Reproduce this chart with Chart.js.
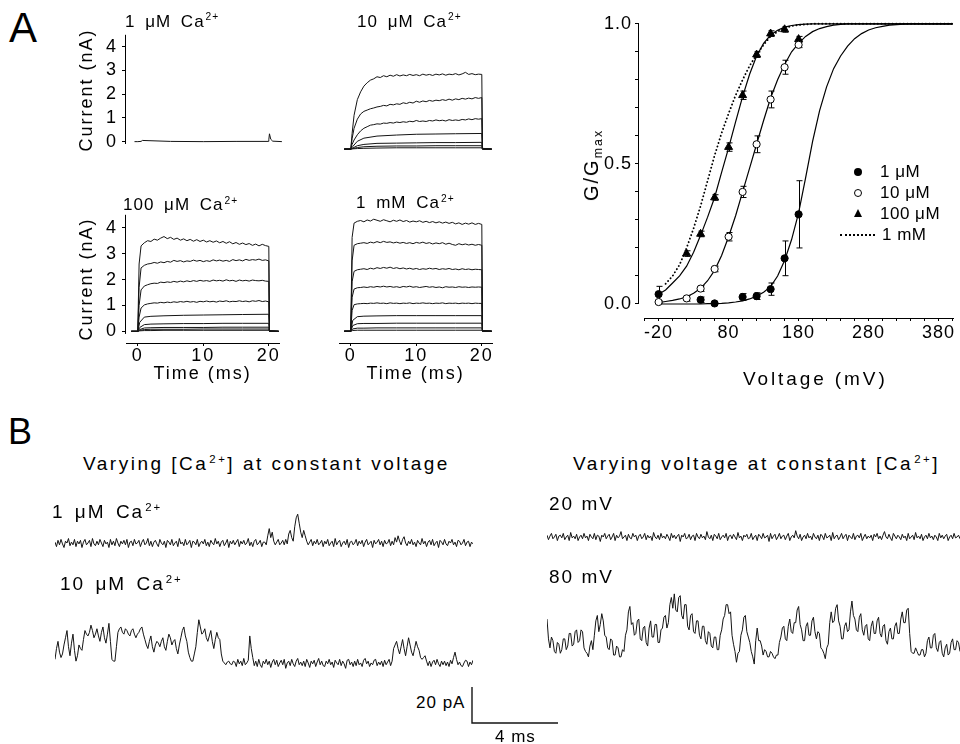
<!DOCTYPE html>
<html>
<head>
<meta charset="utf-8">
<title>Ca2+ and voltage dependence of BK currents</title>
<script src="https://cdn.jsdelivr.net/npm/chart.js@4.4.1/dist/chart.umd.min.js"></script>
<style>
  body { margin: 0; background: #fff; }
  #fig { position: relative; width: 960px; height: 744px; overflow: hidden;
         font-family: "Liberation Sans", Arial, sans-serif; color: #000; }
  #fig canvas { position: absolute; }
  .t { position: absolute; line-height: 1; white-space: nowrap; }
  .t sup { font-size: 0.6em; line-height: 0; vertical-align: 0.6em; margin-left: 1px; }
  .t sub { font-size: 0.62em; line-height: 0; vertical-align: -0.3em; }
  .mk { position: absolute; box-sizing: border-box; }
</style>
</head>
<body>
<div id="fig">
  <canvas id="a1" width="230" height="140" style="left:60px;top:20px"></canvas>
  <canvas id="a2" width="230" height="140" style="left:290px;top:20px"></canvas>
  <canvas id="a3" width="230" height="190" style="left:60px;top:200px"></canvas>
  <canvas id="a4" width="230" height="190" style="left:290px;top:200px"></canvas>
  <canvas id="g" width="400" height="390" style="left:560px;top:10px"></canvas>
  <canvas id="b1" width="418" height="60" style="left:55px;top:505px"></canvas>
  <canvas id="b2" width="418" height="70" style="left:55px;top:605px"></canvas>
  <canvas id="b3" width="413" height="50" style="left:547px;top:510px"></canvas>
  <canvas id="b4" width="413" height="90" style="left:547px;top:580px"></canvas>
  <canvas id="bar" width="100" height="50" style="left:466px;top:680px"></canvas>

  <div class="t" style="left:9px;top:7px;font-size:42px">A</div>
  <div class="t" style="left:8px;top:414px;font-size:36px">B</div>

  <div class="t" style="left:125px;top:12.6px;font-size:17px;letter-spacing:1px;word-spacing:4px">1 μM Ca<sup>2+</sup></div>
  <div class="t" style="left:357px;top:12.6px;font-size:17px;letter-spacing:1px;word-spacing:4px">10 μM Ca<sup>2+</sup></div>
  <div class="t" style="left:123px;top:196.3px;font-size:17px;letter-spacing:1px;word-spacing:4px">100 μM Ca<sup>2+</sup></div>
  <div class="t" style="left:356px;top:193.9px;font-size:17px;letter-spacing:1px;word-spacing:4px">1 mM Ca<sup>2+</sup></div>

  <div class="t" style="left:591px;top:165px;font-size:20px;letter-spacing:2px;transform:translate(-50%,-50%) rotate(-90deg)">G/G<sub>max</sub></div>
  <div class="t" style="left:743px;top:369px;font-size:19px;letter-spacing:2.9px">Voltage (mV)</div>

  <div class="mk" style="left:854px;top:168px;width:8px;height:8px;border-radius:50%;background:#000"></div>
  <div class="mk" style="left:854px;top:189px;width:8px;height:8px;border-radius:50%;border:1px solid #000"></div>
  <div class="mk" style="left:853.5px;top:208.5px;width:0;height:0;border-left:4.5px solid transparent;border-right:4.5px solid transparent;border-bottom:8px solid #000"></div>
  <div class="mk" style="left:840px;top:234px;width:35px;height:0;border-top:2px dotted #000"></div>
  <div class="t" style="left:880px;top:162.6px;font-size:17px;letter-spacing:0.5px">1 μM</div>
  <div class="t" style="left:880px;top:183.6px;font-size:17px;letter-spacing:0.5px">10 μM</div>
  <div class="t" style="left:880px;top:204.6px;font-size:17px;letter-spacing:0.5px">100 μM</div>
  <div class="t" style="left:882px;top:225.6px;font-size:17px;letter-spacing:0.5px">1 mM</div>

  <div class="t" style="left:83px;top:453.9px;font-size:19px;letter-spacing:2.5px">Varying [Ca<sup>2+</sup>] at constant voltage</div>
  <div class="t" style="left:573px;top:453.9px;font-size:19px;letter-spacing:2.5px">Varying voltage at constant [Ca<sup>2+</sup>]</div>
  <div class="t" style="left:52px;top:501.9px;font-size:19px;letter-spacing:2px;word-spacing:3px">1 μM Ca<sup>2+</sup></div>
  <div class="t" style="left:60px;top:573.9px;font-size:19px;letter-spacing:2px;word-spacing:3px">10 μM Ca<sup>2+</sup></div>
  <div class="t" style="left:549px;top:493.9px;font-size:19px;letter-spacing:2px">20 mV</div>
  <div class="t" style="left:549px;top:566.9px;font-size:19px;letter-spacing:2px">80 mV</div>
  <div class="t" style="left:416px;top:693.6px;font-size:17px;letter-spacing:1px">20 pA</div>
  <div class="t" style="left:495px;top:727.6px;font-size:17px;letter-spacing:1px">4 ms</div>
</div>

<script>
// ---- panel A: macroscopic currents (nA) vs time (ms) ----
const tFine = [-1, 0, 0.2, 0.5, 1, 1.5, 2, 2.5, 3, 3.5, 4, 4.5, 5, 5.5, 6, 6.5, 7, 7.5, 8, 8.5,
  9, 9.5, 10, 10.5, 11, 11.5, 12, 12.5, 13, 13.5, 14, 14.5, 15, 15.5, 16, 16.5, 17, 17.5, 18, 18.5,
  19, 19.5, 20, 20.1, 21.5];
const tCoarse = [-1, 0, 0.3, 1, 2, 4, 7, 10, 13, 16, 20, 20.1, 21.5];
const tOne = [-0.5, 0, 0.5, 0.7, 5, 10, 15, 19.9, 20, 20.1, 20.3, 20.6, 22];
const currentTicks = [0, 1, 2, 3, 4];
const timeTicks = [0, 10, 20];

const i1uM = [0, 0, 0.01, 0.05, 0.01, 0, 0.01, 0.01, 0.08, 0.33, 0.1, 0.02, 0];

const i10Fine = [
  [0,0,0.6,1.3, 1.9,2.2,2.42,2.55,2.65,2.7,2.78,2.75,2.82,2.78, 2.84,2.8,2.86,2.81,2.85,2.82,2.87,2.83,2.86,2.82,
   2.88,2.84,2.87,2.83,2.88,2.85,2.89,2.84,2.88,2.86, 2.9,2.85,2.89,2.95,2.87,2.9,2.86,2.88,2.87, 0.03,0],
  [0,0,0.4,0.8, 1.15,1.35,1.45,1.5,1.55,1.58,1.62,1.64,1.68,1.66, 1.72,1.7,1.74,1.72,1.78,1.75,1.8,1.77,1.84,1.8,
   1.85,1.82,1.87,1.84,1.88,1.86,1.9,1.87,1.92,1.88, 1.93,1.9,1.95,1.92,1.96,1.93,1.98,1.95,1.98, 0.02,0],
  [0,0,0.18,0.35, 0.55,0.7,0.8,0.86,0.92,0.94,0.97,0.96,1.0,0.99, 1.02,1.0,1.04,1.02,1.05,1.03,1.07,1.05,1.1,1.06,
   1.08,1.06,1.1,1.08,1.12,1.09,1.11,1.08,1.13,1.1, 1.12,1.1,1.14,1.12,1.16,1.13,1.17,1.15,1.17, 0.01,0]
];
const i10Coarse = [
  [0,0,0.1,0.3,0.42,0.5,0.54,0.57,0.58,0.59,0.6,0.01,0],
  [0,0,0.04,0.13,0.18,0.22,0.23,0.24,0.25,0.25,0.26,0,0],
  [0,0,0.02,0.06,0.09,0.11,0.12,0.12,0.13,0.13,0.13,0,0],
  [0,0,0.01,0.02,0.03,0.04,0.05,0.05,0.05,0.05,0.05,0,0]
];

const i100Fine = [
  [0,0,2.6,3.3, 3.42,3.5,3.47,3.56,3.52,3.6,3.66,3.58,3.63,3.55, 3.6,3.52,3.57,3.5,3.55,3.48,3.54,3.47,3.52,3.45,
   3.5,3.44,3.49,3.42,3.47,3.4,3.46,3.38,3.43,3.36, 3.41,3.35,3.39,3.32,3.37,3.3,3.36,3.31,3.28, 0.02,0],
  [0,0,1.7,2.45, 2.55,2.6,2.62,2.66,2.63,2.68,2.65,2.7,2.67,2.74, 2.7,2.73,2.68,2.72,2.7,2.75,2.71,2.74,2.69,2.73,
   2.7,2.76,2.72,2.75,2.71,2.74,2.7,2.77,2.73,2.76, 2.72,2.78,2.74,2.77,2.75,2.79,2.74,2.76,2.72, 0.02,0],
  [0,0,1.0,1.6, 1.75,1.8,1.84,1.86,1.85,1.9,1.88,1.91,1.89,1.93, 1.9,1.94,1.91,1.95,1.92,1.96,1.93,1.97,1.94,1.96,
   1.93,1.98,1.95,1.97,1.94,1.99,1.95,1.97,1.93,1.98, 1.95,1.97,1.94,1.98,1.96,1.95,1.97,1.94,1.93, 0.02,0],
  [0,0,0.55,0.9, 1.02,1.06,1.08,1.1,1.09,1.12,1.1,1.13,1.11,1.14, 1.12,1.15,1.13,1.16,1.13,1.15,1.12,1.16,1.14,1.17,
   1.14,1.16,1.13,1.17,1.15,1.18,1.14,1.16,1.15,1.18, 1.15,1.17,1.14,1.18,1.16,1.19,1.15,1.17,1.14, 0.01,0]
];
const i100Coarse = [
  [0,0,0.35,0.55,0.58,0.6,0.62,0.63,0.64,0.65,0.66,0.01,0],
  [0,0,0.15,0.26,0.28,0.29,0.3,0.3,0.31,0.31,0.31,0,0],
  [0,0,0.07,0.13,0.14,0.15,0.15,0.15,0.16,0.16,0.16,0,0],
  [0,0,0.04,0.07,0.08,0.08,0.08,0.09,0.09,0.09,0.09,0,0],
  [0,0,0.02,0.03,0.03,0.04,0.04,0.04,0.04,0.04,0.04,0,0]
];

const i1mMFine = [
  [0,0,3.6,4.15, 4.22,4.25,4.2,4.27,4.23,4.3,4.26,4.22,4.28,4.24, 4.2,4.26,4.22,4.27,4.21,4.25,4.19,4.23,4.2,4.24,
   4.18,4.22,4.17,4.21,4.16,4.2,4.15,4.19,4.14,4.18, 4.12,4.16,4.1,4.15,4.11,4.16,4.1,4.14,4.1, 0.03,0],
  [0,0,2.7,3.3, 3.36,3.38,3.4,3.37,3.42,3.39,3.44,3.4,3.45,3.41, 3.43,3.39,3.42,3.38,3.41,3.37,3.4,3.36,3.41,3.38,
   3.42,3.37,3.4,3.35,3.39,3.36,3.4,3.34,3.38,3.33, 3.3,3.36,3.32,3.35,3.31,3.34,3.3,3.33,3.3, 0.02,0],
  [0,0,1.9,2.3, 2.36,2.38,2.4,2.37,2.42,2.39,2.44,2.41,2.45,2.42, 2.46,2.41,2.44,2.4,2.43,2.39,2.42,2.38,2.41,2.37,
   2.4,2.38,2.42,2.39,2.41,2.37,2.4,2.38,2.41,2.37, 2.39,2.36,2.4,2.37,2.39,2.36,2.38,2.37,2.36, 0.02,0],
  [0,0,1.3,1.62, 1.67,1.68,1.7,1.68,1.71,1.69,1.72,1.7,1.73,1.7, 1.72,1.69,1.71,1.68,1.72,1.7,1.73,1.69,1.71,1.68,
   1.7,1.72,1.69,1.71,1.68,1.7,1.67,1.71,1.69,1.7, 1.68,1.71,1.69,1.7,1.68,1.7,1.69,1.7,1.69, 0.01,0],
  [0,0,0.8,1.02, 1.05,1.06,1.07,1.06,1.08,1.07,1.09,1.07,1.08,1.06, 1.09,1.07,1.08,1.06,1.08,1.07,1.09,1.06,1.08,1.07,
   1.09,1.07,1.08,1.06,1.08,1.07,1.09,1.06,1.08,1.07, 1.08,1.06,1.08,1.07,1.08,1.06,1.08,1.07,1.07, 0.01,0]
];
const i1mMCoarse = [
  [0,0,0.42,0.56,0.58,0.59,0.6,0.6,0.6,0.6,0.6,0.01,0],
  [0,0,0.22,0.29,0.3,0.3,0.31,0.31,0.31,0.31,0.31,0,0],
  [0,0,0.09,0.12,0.12,0.13,0.13,0.13,0.13,0.13,0.13,0,0],
  [0,0,0.03,0.04,0.04,0.04,0.04,0.04,0.04,0.04,0.04,0,0]
];

// ---- G/Gmax vs voltage ----
const curveV = [-20,-10,0,10,20,30,40,50,60,70,80,90,100,110,120,130,140,150,160,170,180,190,200,
  210,220,230,240,250,260,270,280,290,300,310,320,330,340,350,360,370,380,390,400];
const fit1uM = [0,0,0,0,0,0,0,0.001,0.001,0.002, 0.004,0.007,0.011,0.018,0.028,0.042,0.062,0.1,0.155,0.23,
  0.325,0.45,0.58,0.69,0.775,0.84,0.885,0.92,0.947,0.965, 0.978,0.986,0.991,0.995,0.997,0.999,1,1,1,1, 1,1,1];
const fit10uM = [0.005,0.009,0.013,0.018,0.026,0.038,0.056,0.083,0.12,0.173, 0.24,0.315,0.4,0.485,0.57,0.655,0.735,0.8,0.855,0.9,
  0.93,0.955,0.972,0.983,0.99,0.995,0.998,1,1,1, 1,1,1,1,1,1,1,1,1,1, 1,1,1];
const fit100uM = [0.035,0.05,0.075,0.1,0.135,0.185,0.245,0.31,0.38,0.47, 0.557,0.65,0.74,0.82,0.885,0.93,0.96,0.977,0.988,0.994,
  0.997,0.999,1,1,1,1,1,1,1,1, 1,1,1,1,1,1,1,1,1,1, 1,1,1];
const fit1mM = [null,0.072,0.1,0.14,0.2,0.27,0.35,0.44,0.53,0.61, 0.68,0.745,0.8,0.85,0.89,0.925,0.955,0.972,0.985,0.992,
  0.996,0.998,1,1,1,1,1,1,1,1, 1,1,1,1,1,1,1,1,1,1, 1,1,1];

const g1V = [-20, 40, 60, 100, 120, 140, 160, 180];
const g1Y = [0.035, 0.015, 0.002, 0.025, 0.028, 0.053, 0.163, 0.32];
const g1Err = [0.028, 0.01, 0, 0.012, 0.012, 0.022, 0.062, 0.12];
const g10V = [-20, 20, 40, 60, 80, 100, 120, 140, 160, 180];
const g10Y = [0.007, 0.02, 0.055, 0.125, 0.24, 0.40, 0.57, 0.73, 0.845, 0.925];
const g10Err = [0.005, 0.01, 0.01, 0.01, 0.015, 0.02, 0.03, 0.03, 0.025, 0.01];
const g100V = [20, 40, 60, 80, 100, 120, 140, 160, 180];
const g100Y = [0.18, 0.25, 0.38, 0.56, 0.745, 0.89, 0.965, 0.98, 0.945];
const g100Err = [0.01, 0.01, 0.01, 0.015, 0.015, 0.01, 0.01, 0.01, 0.01];

const gYTicks = [0, 0.1, 0.2, 0.3, 0.4, 0.5, 0.6, 0.7, 0.8, 0.9, 1.0];
const gYLabels = [0, 0.5, 1.0];
const vTicks = [-40,-20,0,20,40,60,80,100,120,140,160,180,200,220,240,260,280,300,320,340,360,380,400];
const vLabels = [-20, 80, 180, 280, 380];

// ---- panel B: single channel records (pA), sample interval 0.07 ms ----
const dtB = 0.07;
const b1uM = [
  0.5,-2,1.5,-1,2,-0.5,-2.5,1,0,2.5,-1.5,0.5,-1,2,-2,1,-0.5,1.5,-2.5,0.5,
  2,-1,0,1.5,-2,2.5,-0.5,-1.5,1,-1,2,0,-2,1.5,-0.5,0.5,-2.5,2,-1,1,
  -1.5,2.5,0,-2,1,-0.5,1.5,-1,2,-2.5,0.5,1,-1.5,2,-0.5,0,1.5,-2,0.5,2,
  -1,0,2.5,-1.5,1,-2,0.5,1.5,-0.5,-2,2,0,-1,1,-2.5,1.5,0.5,-1,2,-1.5,
  0,1,-2,2.5,-0.5,0.5,-1.5,2,-1,0,1.5,-2.5,1,0.5,-1,2,-2,0,1,-0.5,
  2,-1.5,0.5,-2,1.5,0,-1,2.5,-0.5,1,-2,0.5,1.5,-1.5,0,2,-2.5,1,-0.5,1.5,
  -1,0.5,2,-2,1,-0.5,1.5,-1,0,2.5,-1.5,0.5,-2,1,2,-1,0,1.5,-2,0.5,
  0.5,-1,4,8,3,6,1,-1,0.5,2,-1,0,1.5,-1,2,-0.5,5,7,3,1,
  9,14,16,11,6,3,7,4,1,-1,0.5,2,-1.5,1,-0.5,2,-1,0,1.5,-2,
  1,-0.5,2,-1.5,0,1,-2,2.5,-1,0.5,1.5,-2,0,1,-1,2,-2.5,0.5,1,-1,
  0,2,-1.5,1,-0.5,1.5,-2,0.5,2,-1,0,1,-2.5,1.5,-0.5,0.5,2,-1,1,-2,
  1.5,-0.5,0,2,-1.5,1,-1,3,0.5,4,1,-1,2,3.5,0,-1.5,1,-0.5,2,-1,
  0.5,-2,1.5,0,-1,2.5,-0.5,1,-2,0.5,1.5,-1,2,-1.5,0,1,-2.5,1.5,0.5,-1,
  2,-0.5,-1.5,1,0,2,-1,0.5,-2,1.5,1,-1,0,2,-1.5,0.5,1,-2,0.5,-0.5];
const b10uM = [
  2,8,12,6,3,5,10,14,18,9,4,11,16,7,1,4,10,8,7,13,
  18,16,15,17,21,18,14,16,19,15,12,17,20,14,11,16,22,12,2,1,
  1,9,17,19,20,17,16,19,18,16,15,18,19,16,14,16,17,19,20,16,
  13,10,8,12,15,9,6,10,12,11,9,12,14,9,7,12,16,14,10,12,
  13,8,5,10,14,18,20,15,12,6,3,1,1,5,9,17,24,20,16,17,
  19,14,12,15,18,12,8,13,17,14,13,5,1,0,-1,0.5,1,-0.5,-1,1,
  0.5,-2,2,-0.5,1,-1.5,2.5,-1,0,1.5,15,8,3,-1.5,1,-2,2,-1,-2.5,1,
  -0.5,2,-1,1,-2.5,0.5,2,-1,1.5,-2,0,1.5,-1,2,-3,0,1,-1.5,2,-0.5,
  -2,1,2.5,-1,0.5,-1.5,1,-2,2,0,-2.5,1,-0.5,1.5,-2,0.5,2.5,-1,1,-1.5,
  -2,1,-0.5,2,-1,0.5,-2.5,1.5,0,-1,2,-1.5,1,-0.5,-3,1.5,2,-1,0.5,-2,
  1,-1.5,2,-1,0,-2,1.5,2.5,-0.5,1,-2,0,-1,1.5,2,-1.5,0.5,-1,1,-2,
  1.5,-1,0.5,2,-1.5,1,8,10,12,8,5,9,13,8,4,9,14,10,6,4,
  8,12,9,7,3,2,3,4,1,-1.5,1,-2,0.5,1.5,-1,2,-0.5,-2,1,-1,
  1,-1.5,0.5,-2,1.5,-0.5,3,6,2,-1,0.5,-1.5,-2,0,1.5,1,-2,0.5,-1,1.5];
const b20mV = [
  1,-1.5,0.5,2,-1,0,1.5,-2,0.5,1,-0.5,2,-1.5,0,1,-2,2.5,-0.5,0.5,-1,
  1.5,-2,0,1,-1,2,-0.5,0.5,-2,1.5,0,-1,2,-1.5,1,0.5,-2.5,1,0,2,
  -1,0.5,1.5,-1.5,0,2,-2,1,-0.5,0.5,3,-1,0,1,-2,1.5,-0.5,-1,2,0,
  1,-2,0.5,1.5,-1,0,2,-1.5,1,-0.5,0.5,-2,2.5,0,-1,1,-1.5,2,-0.5,0.5,
  -1,1.5,0,-2,2,-0.5,1,-1,0.5,1.5,-2.5,1,0,2,-1,-0.5,1.5,-1.5,0.5,1,
  -2,2,0,-1,1.5,-0.5,0.5,-1.5,3,0,-1,1,-2,1.5,0.5,-1,2,-1.5,0,1,
  -0.5,2,-2,0.5,1,-1,1.5,0,-1.5,2.5,-0.5,0.5,-2,1,0,1.5,-1,-0.5,2,-1.5,
  0,1,-2,1.5,0.5,-1,2,-0.5,0,1,-2.5,2,-1,0.5,1.5,-1.5,0,2,-1,0.5,
  1,-1.5,0.5,2,-2,0,1,-0.5,3.5,0.5,-1,1.5,-2,0,1,-1,2,-0.5,0.5,-1.5,
  2,0,-1,1,-2,1.5,0.5,-1.5,2,-0.5,0,1,-2,2.5,-1,0.5,1,-1.5,0,2,
  -1,0.5,1.5,-2,1,0,-1,2,-1.5,0.5,1,-0.5,2,-2,0,1.5,-1,0.5,-0.5,1,
  -2,1.5,0,2,-1,0.5,-1.5,1,3,0,-1,1.5,-0.5,-2,2,0.5,-1,1,0,-1.5,
  1.5,-0.5,0.5,-2,2,-1,0,1,-1.5,2.5,-0.5,0.5,-1,1.5,-2,0,1,-1,2,-0.5,
  0.5,-1.5,1,0,-2,2,-0.5,1,-1,0.5,1.5,-2,0,1,-1,2,-0.5,0,1,-1];
const b80mV = [
  20,9,4,10,8,2,1,7,6,1,3,9,9,3,5,12,12,5,6,13,
  14,7,8,14,13,4,2,1,-1,5,8,3,11,19,22,13,17,23,19,11,
  10,4,3,9,8,0,0,5,4,-1,-1,3,2,11,14,24,27,17,18,11,
  12,19,20,9,8,15,16,7,5,15,19,10,10,17,17,7,7,14,15,21,
  22,15,18,28,32,26,34,25,24,32,33,22,20,28,28,16,14,22,23,13,
  12,19,19,11,9,16,16,8,6,13,12,5,4,10,10,3,3,11,14,20,
  22,28,28,23,24,11,6,2,-4,1,2,11,14,21,22,13,10,7,2,-1,
  -5,8,15,8,8,5,0,3,2,-1,-1,2,1,-1,-2,0,0,7,10,15,
  16,9,8,16,20,13,12,18,18,25,27,17,14,8,8,16,18,11,11,19,
  21,13,9,13,12,4,3,1,-2,4,6,18,24,18,19,26,28,19,16,9,
  9,16,18,13,14,24,30,22,20,14,13,21,23,14,11,16,17,9,8,16,
  19,12,12,19,21,12,10,16,17,8,6,13,15,9,9,16,18,12,12,20,
  24,18,18,25,26,12,2,1,1,4,2,0,0,3,3,-1,1,8,10,4,
  4,11,12,4,2,7,8,1,-1,4,6,0,1,7,9,3,3,8,7,2];
const barT = [0, 0, 4];
const barI = [20, 0, 0];

// ---------------------------------------------------------------
Chart.defaults.font.family = '"Liberation Sans", Arial, sans-serif';
Chart.defaults.font.size = 18;
Chart.defaults.color = '#000';

// offset axis lines (axis lines that stop short of each other)
const axisLine = {
  id: 'axisLine',
  afterDraw(chart, args, o) {
    const { ctx, chartArea: a, scales } = chart;
    ctx.save();
    ctx.strokeStyle = '#000';
    ctx.lineWidth = 1;
    if (o.y) {
      const x = Math.round(a.left) - 0.5;
      ctx.beginPath();
      ctx.moveTo(x, scales.y.getPixelForValue(o.y[0]));
      ctx.lineTo(x, scales.y.getPixelForValue(o.y[1]));
      ctx.stroke();
    }
    if (o.x) {
      const y = Math.round(a.bottom) + 0.5;
      ctx.beginPath();
      ctx.moveTo(scales.x.getPixelForValue(o.x[0]), y);
      ctx.lineTo(scales.x.getPixelForValue(o.x[1]), y);
      ctx.stroke();
    }
    ctx.restore();
  }
};

const spacing = {
  id: 'spacing',
  beforeDraw(chart, args, o) { chart.ctx.letterSpacing = (o.px || 0) + 'px'; }
};

const errorBars = {
  id: 'errorBars',
  beforeDatasetsDraw(chart) {
    const { ctx, scales: { x, y } } = chart;
    ctx.save();
    ctx.strokeStyle = '#000';
    ctx.lineWidth = 1;
    chart.data.datasets.forEach(ds => {
      if (!ds.errors) return;
      ds.data.forEach((p, i) => {
        const e = ds.errors[i];
        if (!e) return;
        const px = Math.round(x.getPixelForValue(p.x)) + 0.5;
        const top = y.getPixelForValue(p.y + e);
        const bot = y.getPixelForValue(p.y - e);
        ctx.beginPath();
        ctx.moveTo(px, top); ctx.lineTo(px, bot);
        ctx.moveTo(px - 3, top); ctx.lineTo(px + 3, top);
        ctx.moveTo(px - 3, bot); ctx.lineTo(px + 3, bot);
        ctx.stroke();
      });
    });
    ctx.restore();
  }
};

function series(t, v, w) {
  return {
    data: t.map((x, i) => ({ x: x, y: v[i] })),
    borderColor: '#141414', borderWidth: w || 1, pointRadius: 0, tension: 0, clip: false
  };
}

function panelSets(fine, coarse) {
  return fine.map(v => series(tFine, v)).concat(coarse.map(v => series(tCoarse, v)));
}

function currentChart(id, sets, o) {
  return new Chart(document.getElementById(id), {
    type: 'line',
    data: { datasets: sets },
    options: {
      responsive: false, animation: false, events: [],
      layout: { padding: o.pad },
      plugins: { legend: { display: false }, tooltip: { enabled: false },
                 axisLine: o.axis || {}, spacing: { px: 2 } },
      scales: {
        x: {
          type: 'linear', min: -1.8, max: o.xMax, display: o.showX,
          afterBuildTicks: s => { s.ticks = timeTicks.map(v => ({ value: v })); },
          afterFit: s => { if (o.showX) s.height = 47; },
          grid: { drawOnChartArea: false, tickLength: 3, color: '#000' },
          border: { display: true, color: '#000', width: 1 },
          ticks: { padding: -1, autoSkip: false, maxRotation: 0, font: { size: 18 } },
          title: { display: true, text: 'Time (ms)', font: { size: 18 }, padding: { top: 0, bottom: 5 } }
        },
        y: {
          type: 'linear', min: o.yMin, max: 4.5, display: o.showY,
          afterBuildTicks: s => { s.ticks = currentTicks.map(v => ({ value: v })); },
          afterFit: s => { if (o.showY) s.width = 66; },
          grid: { drawOnChartArea: false, tickLength: 4, color: '#000' },
          border: { display: false },
          ticks: { padding: 4, autoSkip: false, font: { size: 18 } },
          title: { display: true, text: 'Current (nA)', font: { size: 18 }, padding: { top: 16.5, bottom: 0 } }
        }
      }
    },
    plugins: [axisLine, spacing]
  });
}

currentChart('a1', [series(tOne, i1uM)],
  { xMax: 22, yMin: -0.15, showX: false, showY: true, pad: { left: 0, top: 12, right: 8.1, bottom: 7 }, axis: { y: [-0.1, 4.5] } });
currentChart('a2', panelSets(i10Fine, i10Coarse),
  { xMax: 22, yMin: -0.15, showX: false, showY: false, pad: { left: 49, top: 12, right: 25.1, bottom: 7 } });
currentChart('a3', panelSets(i100Fine, i100Coarse),
  { xMax: 21.6, yMin: -0.45, showX: true, showY: true, pad: { left: 0, top: 14, right: 10.7, bottom: 0 }, axis: { y: [-0.1, 4.5] } });
currentChart('a4', panelSets(i1mMFine, i1mMCoarse),
  { xMax: 21.6, yMin: -0.45, showX: true, showY: false, pad: { left: 49, top: 14, right: 27.7, bottom: 0 } });

// ---- G/Gmax chart ----
function pts(v, g, err, style, r, fill) {
  return {
    data: v.map((x, i) => ({ x: x, y: g[i] })), errors: err, showLine: false,
    pointStyle: style, pointRadius: r, pointBackgroundColor: fill, pointBorderColor: '#000',
    pointBorderWidth: 1, borderColor: '#000', order: 0, clip: false
  };
}
function curve(g, dotted) {
  return {
    data: curveV.map((x, i) => ({ x: x, y: g[i] })), borderColor: '#000',
    borderWidth: dotted ? 1.9 : 1.2, borderDash: dotted ? [0.1, 3.6] : [],
    borderCapStyle: dotted ? 'round' : 'butt', pointRadius: 0, tension: 0, order: 1, clip: false
  };
}

new Chart(document.getElementById('g'), {
  type: 'line',
  data: {
    datasets: [
      pts(g1V, g1Y, g1Err, 'circle', 3.6, '#000'),
      pts(g10V, g10Y, g10Err, 'circle', 3.6, '#fff'),
      pts(g100V, g100Y, g100Err, 'triangle', 4.6, '#000'),
      curve(fit1uM), curve(fit10uM), curve(fit100uM), curve(fit1mM, true)
    ]
  },
  options: {
    responsive: false, animation: false, events: [],
    layout: { padding: { left: 0, top: 12, right: 6, bottom: 0 } },
    plugins: { legend: { display: false }, tooltip: { enabled: false },
               axisLine: { y: [0, 1], x: [-40, 402] }, spacing: { px: 1 } },
    scales: {
      x: {
        type: 'linear', min: -48, max: 402,
        afterBuildTicks: s => { s.ticks = vTicks.map(v => ({ value: v })); },
        afterFit: s => { s.height = 82; },
        grid: { drawOnChartArea: false, tickLength: 3, color: '#000' },
        border: { display: false },
        ticks: { padding: 1.2, autoSkip: false, maxRotation: 0, font: { size: 18 },
                 callback: v => vLabels.includes(v) ? String(v) : '' }
      },
      y: {
        type: 'linear', min: -0.05, max: 1.0,
        afterBuildTicks: s => { s.ticks = gYTicks.map(v => ({ value: v })); },
        afterFit: s => { s.width = 79; },
        grid: { drawOnChartArea: false, tickLength: 4, color: '#000' },
        border: { display: false },
        ticks: { padding: 3, autoSkip: false, font: { size: 18 },
                 callback: v => gYLabels.includes(v) ? v.toFixed(1) : '' }
      }
    }
  },
  plugins: [axisLine, spacing, errorBars]
});

// ---- panel B single channel records ----
function recordChart(id, sets, xr, yr) {
  return new Chart(document.getElementById(id), {
    type: 'line',
    data: { datasets: sets },
    options: {
      responsive: false, animation: false, events: [],
      layout: { padding: 0 },
      plugins: { legend: { display: false }, tooltip: { enabled: false } },
      scales: {
        x: { type: 'linear', display: false, min: xr[0], max: xr[1] },
        y: { type: 'linear', display: false, min: yr[0], max: yr[1] }
      }
    }
  });
}
function record(v) {
  return series(v.map((_, i) => i * dtB), v, 1);
}
const bSpan = [0, (b1uM.length - 1) * dtB];
recordChart('b1', [record(b1uM)], bSpan, [-12.2, 21.1]);
recordChart('b2', [record(b10uM)], bSpan, [-6.7, 32.2]);
recordChart('b3', [record(b20mV)], bSpan, [-12.8, 15]);
recordChart('b4', [record(b80mV)], bSpan, [-8.3, 41.7]);
recordChart('bar', [series(barT, barI, 1.4)], [-0.279, 4.372], [-3.89, 23.89]);
</script>
</body>
</html>
